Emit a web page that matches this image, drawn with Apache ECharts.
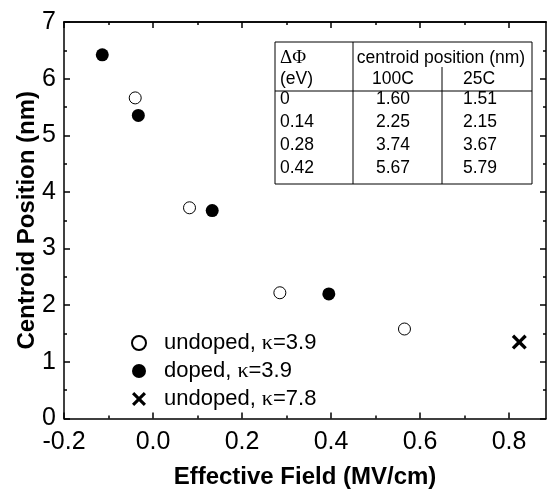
<!DOCTYPE html>
<html>
<head>
<meta charset="utf-8">
<script src="https://cdn.jsdelivr.net/npm/echarts@6/dist/echarts.min.js"></script>
<style>
  html, body { margin: 0; padding: 0; background: #fff; }
  #main { width: 551px; height: 489px; }
</style>
</head>
<body>
<div id="main"></div>
<script>
// data
var undopedX = [-0.040, 0.082, 0.285, 0.565];
var undopedY = [5.66, 3.72, 2.22, 1.58];
var dopedX = [-0.114, -0.033, 0.133, 0.395];
var dopedY = [6.42, 5.35, 3.67, 2.20];
var highKX = [0.823];
var highKY = [1.35];

var seriesNames = ['undoped, κ=3.9', 'doped, κ=3.9', 'undoped, κ=7.8'];

// x ticks
var xMajor = [-0.2, 0, 0.2, 0.4, 0.6, 0.8];
var xMinor = [-0.1, 0.1, 0.3, 0.5, 0.7];

// inset table
var deltaPhi = ['0', '0.14', '0.28', '0.42'];
var pos100C = ['1.60', '2.25', '3.74', '5.67'];
var pos25C = ['1.51', '2.15', '3.67', '5.79'];

var FONT = 'Liberation Sans, Arial, sans-serif';
var SERIF = 'Liberation Serif, Times New Roman, serif';
var XMIN = -0.2, XMAX = 0.883;

function pairs(xs, ys) {
  return xs.map(function (x, i) { return [x, ys[i]]; });
}

var crossPath = 'path://M0,2.2L2.2,0L7,4.8L11.8,0L14,2.2L9.2,7L14,11.8L11.8,14L7,9.2L2.2,14L0,11.8L4.8,7Z';

function xAxisDef(pos, ticks, len, main) {
  return {
    type: 'value',
    position: pos,
    min: XMIN,
    max: XMAX,
    name: main ? 'Effective Field (MV/cm)' : '',
    nameLocation: 'middle',
    nameGap: 47,
    nameMoveOverlap: false,
    nameTextStyle: { fontFamily: FONT, fontSize: 24, fontWeight: 'bold', color: '#000' },
    axisLine: { show: main || pos === 'top', onZero: false, lineStyle: { color: '#000', width: 1.5 } },
    axisTick: { show: true, inside: true, length: len, customValues: ticks, lineStyle: { color: '#000', width: 1.5 } },
    axisLabel: {
      show: main && pos === 'bottom',
      customValues: xMajor,
      margin: 11,
      fontFamily: FONT,
      fontSize: 25,
      color: '#000',
      formatter: function (v) { return (Math.round(v * 10) / 10).toFixed(1); }
    },
    splitLine: { show: false }
  };
}

function yAxisDef(pos, main) {
  return {
    type: 'value',
    position: pos,
    min: 0,
    max: 7,
    interval: 1,
    name: main ? 'Centroid Position (nm)' : '',
    nameLocation: 'middle',
    nameGap: 25,
    nameMoveOverlap: false,
    nameTextStyle: { fontFamily: FONT, fontSize: 24, fontWeight: 'bold', color: '#000' },
    axisLine: { show: true, onZero: false, lineStyle: { color: '#000', width: 1.5 } },
    axisTick: { show: true, inside: true, length: 6, lineStyle: { color: '#000', width: 1.5 } },
    minorTick: { show: true, splitNumber: 2, length: 3, lineStyle: { color: '#000', width: 1.5 } },
    axisLabel: { show: main, margin: 8, fontFamily: FONT, fontSize: 25, color: '#000' },
    splitLine: { show: false },
    minorSplitLine: { show: false }
  };
}

// table graphic
var TL = 275, TR = 532, TT = 42, TB = 184;
var rowY = [99, 122, 145, 168];
var tableEls = [
  { type: 'rect', shape: { x: TL, y: TT, width: TR - TL, height: TB - TT }, style: { fill: '#fff', stroke: '#000', lineWidth: 1 } },
  { type: 'line', shape: { x1: TL, y1: 91, x2: TR, y2: 91 }, style: { stroke: '#000', lineWidth: 1 } },
  { type: 'line', shape: { x1: 353, y1: TT, x2: 353, y2: TB }, style: { stroke: '#000', lineWidth: 1 } },
  { type: 'line', shape: { x1: 442, y1: 67, x2: 442, y2: TB }, style: { stroke: '#000', lineWidth: 1 } }
];
function cell(txt, x, y, align, font, size) {
  return {
    type: 'text', x: x, y: y,
    style: { text: txt, fontFamily: font || FONT, fontSize: size || 17.5, fill: '#000', align: align, verticalAlign: 'middle' }
  };
}
tableEls.push(cell('ΔΦ', 280, 58, 'left', SERIF, 19));
tableEls.push(cell('(eV)', 280, 79, 'left'));
tableEls.push(cell('centroid position (nm)', 441, 58, 'center'));
tableEls.push(cell('100C', 393, 79, 'center'));
tableEls.push(cell('25C', 479, 79, 'center'));
deltaPhi.forEach(function (d, i) {
  tableEls.push(cell(d, 280, rowY[i], 'left'));
  tableEls.push(cell(pos100C[i], 393, rowY[i], 'center'));
  tableEls.push(cell(pos25C[i], 480, rowY[i], 'center'));
});

var chart = echarts.init(document.getElementById('main'), null, { renderer: 'canvas' });
chart.setOption({
  backgroundColor: '#fff',
  animation: false,
  grid: { left: 64, right: 5, top: 22, bottom: 70.5, containLabel: false, outerBoundsMode: 'none' },
  xAxis: [
    xAxisDef('bottom', xMajor, 6, true),
    xAxisDef('bottom', xMinor, 3, false),
    xAxisDef('top', xMajor, 6, false),
    xAxisDef('top', xMinor, 3, false)
  ],
  yAxis: [yAxisDef('left', true), yAxisDef('right', false)],
  legend: {
    orient: 'vertical',
    left: 126,
    top: 327,
    itemWidth: 14,
    itemHeight: 14,
    itemGap: 6,
    data: seriesNames,
    formatter: function (n) { return n.replace('κ', '{k|κ}'); },
    textStyle: {
      fontFamily: FONT, fontSize: 22, color: '#000', padding: [0, 0, 0, 13],
      rich: { k: { fontFamily: SERIF, fontSize: 22, color: '#000' } }
    }
  },
  graphic: tableEls,
  series: [
    {
      name: seriesNames[0], type: 'scatter', xAxisIndex: 0, yAxisIndex: 0,
      symbol: 'circle', symbolSize: 12,
      itemStyle: { color: '#fff', borderColor: '#000', borderWidth: 1, opacity: 1 },
      data: pairs(undopedX, undopedY)
    },
    {
      name: seriesNames[1], type: 'scatter', xAxisIndex: 0, yAxisIndex: 0,
      symbol: 'circle', symbolSize: 13,
      itemStyle: { color: '#000', opacity: 1 },
      data: pairs(dopedX, dopedY)
    },
    {
      name: seriesNames[2], type: 'scatter', xAxisIndex: 0, yAxisIndex: 0,
      symbol: crossPath, symbolSize: 15,
      itemStyle: { color: '#000', opacity: 1 },
      data: pairs(highKX, highKY)
    }
  ]
});
</script>
</body>
</html>
